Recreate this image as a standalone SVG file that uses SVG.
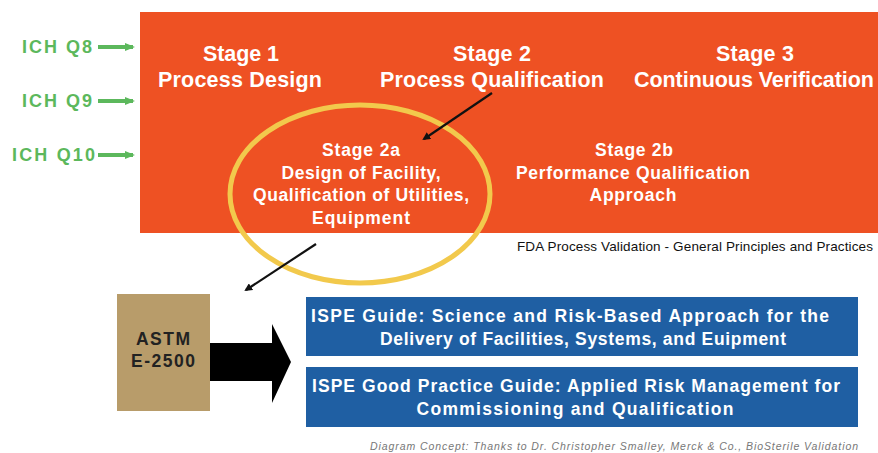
<svg xmlns="http://www.w3.org/2000/svg" width="878" height="453" viewBox="0 0 878 453">
<style>
.st{font-family:"Liberation Sans",Arial,sans-serif;font-weight:bold;fill:#fff;text-anchor:middle}
.big{font-size:21.5px}
.mid{font-size:17.5px}
.ich{font-family:"Liberation Sans",Arial,sans-serif;font-weight:bold;font-size:18px;fill:#5cb85c}
.conn{stroke:#111;stroke-width:2.2;fill:none}
.garr{stroke:#5cb85c;stroke-width:4;fill:none}
</style>
<defs>
<marker id="ah" markerWidth="8" markerHeight="8" refX="6" refY="4" orient="auto" markerUnits="userSpaceOnUse" viewBox="0 0 8 8"><path d="M0,0 L8,4 L0,8 Z" fill="#111"/></marker>
<marker id="gh" markerWidth="10" markerHeight="10" refX="8" refY="5" orient="auto" markerUnits="userSpaceOnUse" viewBox="0 0 10 10"><path d="M0,1 L10,5 L0,9 Z" fill="#5cb85c"/></marker>
</defs>
<rect width="878" height="453" fill="#fff"/>
<g id="stages">
<rect x="140" y="12" width="738" height="221" fill="#ee5123"/>
</g>
<g id="stage1"><text class="st big" x="241" y="61" textLength="76" lengthAdjust="spacing">Stage 1</text><text class="st big" x="240" y="87" textLength="164" lengthAdjust="spacing">Process Design</text></g>
<g id="stage2"><text class="st big" x="492" y="61" textLength="78" lengthAdjust="spacing">Stage 2</text><text class="st big" x="492" y="87" textLength="224" lengthAdjust="spacing">Process Qualification</text></g>
<g id="stage3"><text class="st big" x="755" y="61" textLength="78" lengthAdjust="spacing">Stage 3</text><text class="st big" x="754" y="87" textLength="240" lengthAdjust="spacing">Continuous Verification</text></g>
<g id="stage2a">
<text class="st mid" x="361" y="156" textLength="78" lengthAdjust="spacing">Stage 2a</text>
<text class="st mid" x="361" y="179" textLength="159" lengthAdjust="spacing">Design of Facility,</text>
<text class="st mid" x="361" y="201" textLength="216" lengthAdjust="spacing">Qualification of Utilities,</text>
<text class="st mid" x="361" y="224" textLength="98" lengthAdjust="spacing">Equipment</text>
<ellipse cx="360" cy="194" rx="130" ry="89" fill="none" stroke="#f2c94c" stroke-width="5"/>
</g>
<g id="stage2b">
<text class="st mid" x="634" y="156" textLength="78" lengthAdjust="spacing">Stage 2b</text>
<text class="st mid" x="633" y="179" textLength="234" lengthAdjust="spacing">Performance Qualification</text>
<text class="st mid" x="633" y="201" textLength="87" lengthAdjust="spacing">Approach</text>
</g>
<g id="ich">
<text class="ich" x="22" y="53" textLength="70" lengthAdjust="spacing">ICH Q8</text>
<text class="ich" x="22" y="107" textLength="70" lengthAdjust="spacing">ICH Q9</text>
<text class="ich" x="12" y="161" textLength="83" lengthAdjust="spacing">ICH Q10</text>
</g>
<g id="fda"><text x="517" y="251" font-family="Liberation Sans,Arial,sans-serif" font-size="13.5" fill="#111" textLength="356" lengthAdjust="spacing">FDA Process Validation - General Principles and Practices</text></g>
<g id="astm">
<rect x="117" y="294" width="93" height="117" fill="#b89c6a"/>
<text x="163" y="345" font-family="Liberation Sans,Arial,sans-serif" font-weight="bold" font-size="17.5" fill="#222" text-anchor="middle" textLength="54" lengthAdjust="spacing">ASTM</text>
<text x="163" y="367" font-family="Liberation Sans,Arial,sans-serif" font-weight="bold" font-size="17.5" fill="#222" text-anchor="middle" textLength="64" lengthAdjust="spacing">E-2500</text>
</g>
<g id="ispe1">
<rect x="306" y="297" width="552" height="59" fill="#1f5fa3"/>
<text class="st mid" x="570" y="322" textLength="518" lengthAdjust="spacing">ISPE Guide: Science and Risk-Based Approach for the</text>
<text class="st mid" x="583" y="345" textLength="406" lengthAdjust="spacing">Delivery of Facilities, Systems, and Euipment</text>
</g>
<g id="ispe2">
<rect x="306" y="367" width="552" height="60" fill="#1f5fa3"/>
<text class="st mid" x="576" y="392" textLength="528" lengthAdjust="spacing">ISPE Good Practice Guide: Applied Risk Management for</text>
<text class="st mid" x="575" y="415" textLength="317" lengthAdjust="spacing">Commissioning and Qualification</text>
</g>
<g id="credit"><text x="858" y="450" text-anchor="end" font-family="Liberation Sans,Arial,sans-serif" font-style="italic" font-size="10.5" fill="#777" textLength="488" lengthAdjust="spacing">Diagram Concept: Thanks to Dr. Christopher Smalley, Merck &amp; Co., BioSterile Validation</text></g>
<g id="connectors">
<line class="garr" x1="98" y1="47" x2="133" y2="47" marker-end="url(#gh)"/>
<line class="garr" x1="98" y1="101" x2="133" y2="101" marker-end="url(#gh)"/>
<line class="garr" x1="98" y1="155" x2="133" y2="155" marker-end="url(#gh)"/>
<line class="conn" x1="492" y1="93" x2="424" y2="139" marker-end="url(#ah)"/>
<line class="conn" x1="316" y1="244" x2="246" y2="290" marker-end="url(#ah)"/>
<path d="M210,343 H272 V324 L291,362 L272,403 V381 H210 Z" fill="#000"/>
</g>
</svg>
